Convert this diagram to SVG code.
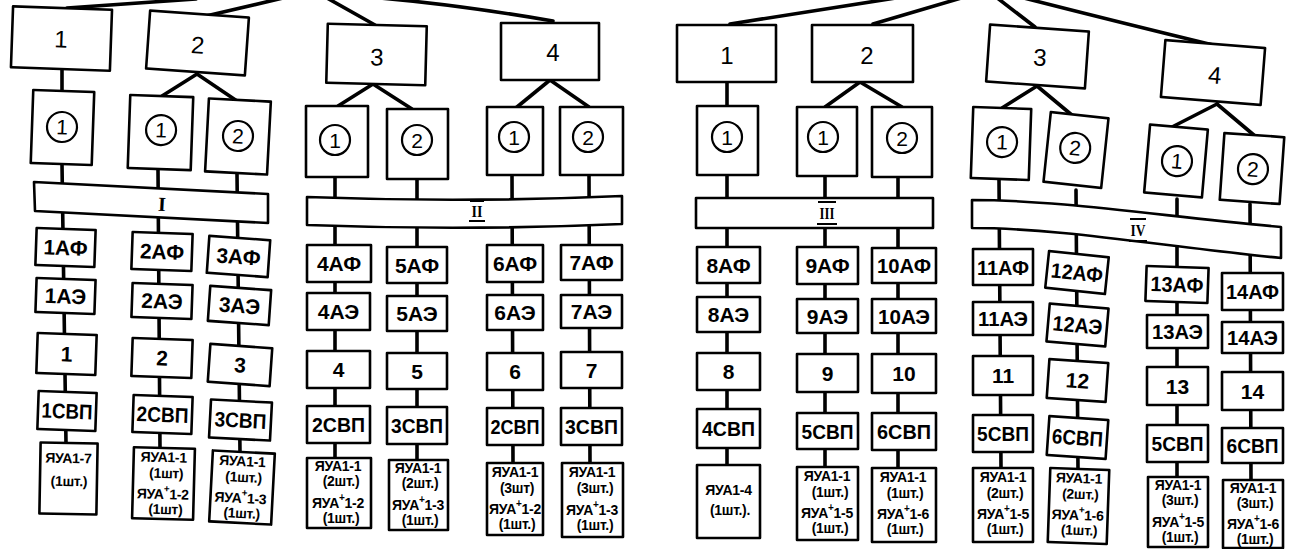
<svg xmlns="http://www.w3.org/2000/svg" width="1297" height="549" viewBox="0 0 1297 549">
<style>
.b{fill:#fff;stroke:#000;stroke-width:2.6;stroke-linejoin:round}
.ci{fill:#fff;stroke:#000;stroke-width:2.2}
.c{fill:none;stroke:#000;stroke-width:3.6;stroke-linecap:round}
.ov{stroke:#000;stroke-width:2}
text,tspan{font-family:"Liberation Sans","DejaVu Sans",sans-serif;text-anchor:middle;dominant-baseline:central;fill:#000}
.tn{font-size:24px}
.tc{font-size:21px}
.tl{font-size:21px;font-weight:bold}
.ts{font-size:14px;font-weight:bold;letter-spacing:-0.3px}
.sup{font-size:10px;baseline-shift:6px}
.tr{font-family:"Liberation Serif",serif;font-size:17px;font-weight:bold}
</style>
<rect width="1297" height="549" fill="#fff"/>
<g id="connectors">
<line class="c" x1="67" y1="8" x2="196" y2="-1"/>
<line class="c" x1="206" y1="16" x2="283" y2="-2"/>
<line class="c" x1="375" y1="25" x2="327" y2="-2"/>
<path class="c" d="M553,21 Q460,5 380,-2"/>
<line class="c" x1="730" y1="24" x2="902" y2="-3"/>
<line class="c" x1="873" y1="24" x2="968" y2="-4"/>
<line class="c" x1="1035" y1="27" x2="996" y2="-3"/>
<path class="c" d="M1213,45 Q1110,20 1020,-3"/>
<line class="c" x1="62" y1="69" x2="62" y2="91"/>
<line class="c" x1="197" y1="74" x2="162" y2="96"/>
<line class="c" x1="197" y1="74" x2="237" y2="101"/>
<line class="c" x1="373" y1="84" x2="338" y2="106"/>
<line class="c" x1="373" y1="84" x2="412" y2="109"/>
<line class="c" x1="550" y1="80" x2="517" y2="107"/>
<line class="c" x1="550" y1="80" x2="589" y2="107"/>
<line class="c" x1="727" y1="82" x2="727" y2="106"/>
<line class="c" x1="860" y1="82" x2="825" y2="107"/>
<line class="c" x1="860" y1="82" x2="902" y2="107"/>
<line class="c" x1="1037" y1="86" x2="1002" y2="108"/>
<line class="c" x1="1037" y1="86" x2="1073" y2="116"/>
<line class="c" x1="1217" y1="104" x2="1172" y2="127"/>
<line class="c" x1="1217" y1="104" x2="1255" y2="136"/>
<line class="c" x1="62" y1="164" x2="66" y2="443"/>
<line class="c" x1="158" y1="170" x2="160" y2="448"/>
<line class="c" x1="237" y1="174" x2="240" y2="452"/>
<line class="c" x1="335" y1="178" x2="335" y2="458"/>
<line class="c" x1="417" y1="179" x2="417" y2="460"/>
<line class="c" x1="512" y1="175" x2="513" y2="463"/>
<line class="c" x1="589" y1="175" x2="590" y2="463"/>
<line class="c" x1="727" y1="175" x2="727" y2="465"/>
<line class="c" x1="825" y1="176" x2="825" y2="467"/>
<line class="c" x1="898" y1="177" x2="898" y2="468"/>
<line class="c" x1="999" y1="180" x2="1001" y2="468"/>
<line class="c" x1="1076" y1="190" x2="1078" y2="469"/>
<line class="c" x1="1177" y1="199" x2="1177" y2="477"/>
<line class="c" x1="1250" y1="204" x2="1251" y2="480"/>
</g>
<g id="nodes">
<g id="L-1" transform="rotate(2 61 38)"><rect class="b" x="12" y="8" width="99" height="61"/><text class="tn" x="61" y="39">1</text></g>
<g id="L-2" transform="rotate(4 197 43)"><rect class="b" x="148" y="14" width="99" height="58"/><text class="tn" x="198" y="45">2</text></g>
<g id="L-3" transform="rotate(1.5 376 55)"><rect class="b" x="327" y="25" width="99" height="59"/><text class="tn" x="377" y="57">3</text></g>
<g id="L-4"><rect class="b" x="501" y="23" width="98" height="57"/><text class="tn" x="553" y="52">4</text></g>
<g id="L-1-1" transform="rotate(2 62 127)"><rect class="b" x="32" y="91" width="61" height="73"/><circle class="ci" cx="62" cy="127" r="15"/><text class="tc" x="62" y="127">1</text></g>
<g id="L-2-1" transform="rotate(2 160 132)"><rect class="b" x="129" y="96" width="63" height="73"/><circle class="ci" cx="161" cy="130" r="15"/><text class="tc" x="161" y="130">1</text></g>
<g id="L-2-2" transform="rotate(3 238 136)"><rect class="b" x="207" y="100" width="62" height="73"/><circle class="ci" cx="238" cy="136" r="15"/><text class="tc" x="238" y="136">2</text></g>
<g id="L-3-1"><rect class="b" x="306" y="106" width="62" height="71"/><circle class="ci" cx="335" cy="140" r="15"/><text class="tc" x="335" y="140">1</text></g>
<g id="L-3-2"><rect class="b" x="387" y="109" width="61" height="70"/><circle class="ci" cx="417" cy="140" r="15"/><text class="tc" x="417" y="140">2</text></g>
<g id="L-4-1"><rect class="b" x="487" y="107" width="56" height="68"/><circle class="ci" cx="514" cy="137" r="15"/><text class="tc" x="514" y="137">1</text></g>
<g id="L-4-2"><rect class="b" x="560" y="107" width="63" height="68"/><circle class="ci" cx="588" cy="137" r="15"/><text class="tc" x="588" y="137">2</text></g>
<g id="bar-I"><polygon class="b" points="34,182 268,194 268,223 35,211"/><text class="tr" x="162" y="204" transform="rotate(3 162 204)" style="font-size:20px">I</text></g>
<g id="bar-II"><path class="b" d="M307,197 Q465,203 622,196 L622,224 Q465,231 307,225 Z"/><text class="tr" x="477" y="211" textLength="11" lengthAdjust="spacingAndGlyphs">II</text><line class="ov" x1="470" y1="201" x2="484" y2="201"/><line class="ov" x1="469" y1="221" x2="485" y2="221"/></g>
<g id="bar-III"><rect class="b" x="696" y="198" width="237" height="30"/><text class="tr" x="827" y="213" textLength="15" lengthAdjust="spacingAndGlyphs">III</text><line class="ov" x1="818" y1="202" x2="836" y2="202"/><line class="ov" x1="817" y1="224" x2="837" y2="224"/></g>
<g id="bar-IV"><path class="b" d="M972,200 C1060,200 1160,216 1281,227 L1281,258 C1160,246 1060,228 972,228 Z"/><text class="tr" x="1138" y="230" textLength="15" lengthAdjust="spacingAndGlyphs">IV</text><line class="ov" x1="1130" y1="219" x2="1146" y2="219"/><line class="ov" x1="1129" y1="241" x2="1147" y2="241"/></g>
<g id="c1-af" transform="rotate(2 65.5 247.5)"><rect class="b" x="36" y="229" width="59" height="37"/><text class="tl" x="65.5" y="247.5">1АФ</text></g>
<g id="c1-ae" transform="rotate(2 65.5 296)"><rect class="b" x="36" y="279" width="59" height="34"/><text class="tl" x="65.5" y="296">1АЭ</text></g>
<g id="c1-n" transform="rotate(2 66.5 354)"><rect class="b" x="37" y="334" width="59" height="40"/><text class="tl" x="66.5" y="354">1</text></g>
<g id="c1-svp" transform="rotate(2 67 411)"><rect class="b" x="38" y="392" width="58" height="38"/><text class="tl" x="67" y="411" textLength="51" lengthAdjust="spacingAndGlyphs">1СВП</text></g>
<g id="c1-ya" transform="rotate(1 68.5 478.5)"><rect class="b" x="40" y="443" width="57" height="71"/><text class="ts"><tspan x="68" y="458">ЯУА1-7</tspan><tspan x="69" y="481">(1шт.)</tspan></text></g>
<g id="c2-af" transform="rotate(2 162 251.5)"><rect class="b" x="132" y="233" width="60" height="37"/><text class="tl" x="162" y="251.5">2АФ</text></g>
<g id="c2-ae" transform="rotate(2 162 301)"><rect class="b" x="132" y="284" width="60" height="34"/><text class="tl" x="162" y="301">2АЭ</text></g>
<g id="c2-n" transform="rotate(2 162 358)"><rect class="b" x="132" y="339" width="60" height="38"/><text class="tl" x="162" y="358">2</text></g>
<g id="c2-svp" transform="rotate(2 162.5 414.5)"><rect class="b" x="133" y="396" width="59" height="37"/><text class="tl" x="162.5" y="414.5" textLength="52" lengthAdjust="spacingAndGlyphs">2СВП</text></g>
<g id="c2-ya" transform="rotate(1.5 163.5 483.5)"><rect class="b" x="133" y="448" width="61" height="71"/><text class="ts"><tspan x="163" y="457">ЯУА1-1</tspan><tspan x="166" y="473">(1шт)</tspan><tspan x="163" y="494">ЯУА<tspan class="sup">+</tspan>1-2</tspan><tspan x="166" y="509">(1шт)</tspan></text></g>
<g id="c3-af" transform="rotate(4 238.5 256.5)"><rect class="b" x="208" y="238" width="61" height="37"/><text class="tl" x="238.5" y="256.5">3АФ</text></g>
<g id="c3-ae" transform="rotate(4 239.5 305.5)"><rect class="b" x="209" y="288" width="61" height="35"/><text class="tl" x="239.5" y="305.5">3АЭ</text></g>
<g id="c3-n" transform="rotate(4 240 365)"><rect class="b" x="209" y="346" width="62" height="38"/><text class="tl" x="240" y="365">3</text></g>
<g id="c3-svp" transform="rotate(3 240.5 420)"><rect class="b" x="210" y="401" width="61" height="38"/><text class="tl" x="240.5" y="420" textLength="52" lengthAdjust="spacingAndGlyphs">3СВП</text></g>
<g id="c3-ya" transform="rotate(3 242 487.5)"><rect class="b" x="211" y="452" width="62" height="71"/><text class="ts"><tspan x="241" y="461">ЯУА1-1</tspan><tspan x="243" y="477">(1шт.)</tspan><tspan x="241" y="498">ЯУА<tspan class="sup">+</tspan>1-3</tspan><tspan x="243" y="513">(1шт.)</tspan></text></g>
<g id="c4-af"><rect class="b" x="307" y="245" width="64" height="37"/><text class="tl" x="339" y="263.5">4АФ</text></g>
<g id="c4-ae"><rect class="b" x="307" y="293" width="63" height="37"/><text class="tl" x="338.5" y="311.5">4АЭ</text></g>
<g id="c4-n"><rect class="b" x="307" y="351" width="63" height="37"/><text class="tl" x="338.5" y="369.5">4</text></g>
<g id="c4-svp"><rect class="b" x="307" y="406" width="63" height="37"/><text class="tl" x="338.5" y="424.5" textLength="53" lengthAdjust="spacingAndGlyphs">2СВП</text></g>
<g id="c4-ya"><rect class="b" x="307" y="458" width="64" height="70"/><text class="ts"><tspan x="338" y="466">ЯУА1-1</tspan><tspan x="341" y="481">(2шт.)</tspan><tspan x="338" y="503">ЯУА<tspan class="sup">+</tspan>1-2</tspan><tspan x="341" y="518">(1шт.)</tspan></text></g>
<g id="c5-af"><rect class="b" x="387" y="247" width="60" height="36"/><text class="tl" x="417" y="265">5АФ</text></g>
<g id="c5-ae"><rect class="b" x="387" y="296" width="60" height="35"/><text class="tl" x="417" y="313.5">5АЭ</text></g>
<g id="c5-n"><rect class="b" x="387" y="353" width="60" height="36"/><text class="tl" x="417" y="371">5</text></g>
<g id="c5-svp"><rect class="b" x="387" y="407" width="60" height="37"/><text class="tl" x="417" y="425.5" textLength="52" lengthAdjust="spacingAndGlyphs">3СВП</text></g>
<g id="c5-ya"><rect class="b" x="389" y="460" width="59" height="70"/><text class="ts"><tspan x="418" y="468">ЯУА1-1</tspan><tspan x="420" y="483">(2шт.)</tspan><tspan x="418" y="505">ЯУА<tspan class="sup">+</tspan>1-3</tspan><tspan x="420" y="520">(1шт.)</tspan></text></g>
<g id="c6-af"><rect class="b" x="487" y="245" width="56" height="37"/><text class="tl" x="515" y="263.5">6АФ</text></g>
<g id="c6-ae"><rect class="b" x="487" y="295" width="56" height="35"/><text class="tl" x="515" y="312.5">6АЭ</text></g>
<g id="c6-n"><rect class="b" x="487" y="353" width="56" height="37"/><text class="tl" x="515" y="371.5">6</text></g>
<g id="c6-svp"><rect class="b" x="487" y="408" width="56" height="37"/><text class="tl" x="515" y="426.5" textLength="49" lengthAdjust="spacingAndGlyphs">2СВП</text></g>
<g id="c6-ya"><rect class="b" x="487" y="463" width="56" height="72"/><text class="ts"><tspan x="515" y="472">ЯУА1-1</tspan><tspan x="517" y="488">(3шт)</tspan><tspan x="515" y="509">ЯУА<tspan class="sup">+</tspan>1-2</tspan><tspan x="517" y="524">(1шт.)</tspan></text></g>
<g id="c7-af"><rect class="b" x="561" y="245" width="61" height="35"/><text class="tl" x="591.5" y="262.5">7АФ</text></g>
<g id="c7-ae"><rect class="b" x="561" y="295" width="61" height="33"/><text class="tl" x="591.5" y="311.5">7АЭ</text></g>
<g id="c7-n"><rect class="b" x="561" y="352" width="61" height="36"/><text class="tl" x="591.5" y="370">7</text></g>
<g id="c7-svp"><rect class="b" x="561" y="408" width="61" height="37"/><text class="tl" x="591.5" y="426.5" textLength="53" lengthAdjust="spacingAndGlyphs">3СВП</text></g>
<g id="c7-ya"><rect class="b" x="562" y="463" width="61" height="74"/><text class="ts"><tspan x="592" y="472">ЯУА1-1</tspan><tspan x="595" y="488">(3шт.)</tspan><tspan x="592" y="510">ЯУА<tspan class="sup">+</tspan>1-3</tspan><tspan x="595" y="525">(1шт.)</tspan></text></g>
<g id="R-1"><rect class="b" x="677" y="25" width="99" height="57"/><text class="tn" x="727" y="55">1</text></g>
<g id="R-2"><rect class="b" x="812" y="25" width="101" height="57"/><text class="tn" x="867" y="55">2</text></g>
<g id="R-3" transform="rotate(4 1037.5 56.5)"><rect class="b" x="988" y="28" width="99" height="57"/><text class="tn" x="1040" y="57">3</text></g>
<g id="R-4" transform="rotate(4.5 1213 72.5)"><rect class="b" x="1163" y="44" width="100" height="57"/><text class="tn" x="1215" y="75">4</text></g>
<g id="R-1-1"><rect class="b" x="697" y="106" width="61" height="69"/><circle class="ci" cx="727" cy="137" r="15"/><text class="tc" x="727" y="137">1</text></g>
<g id="R-2-1"><rect class="b" x="797" y="107" width="60" height="69"/><circle class="ci" cx="823" cy="137" r="15"/><text class="tc" x="823" y="137">1</text></g>
<g id="R-2-2"><rect class="b" x="872" y="107" width="60" height="70"/><circle class="ci" cx="902" cy="138" r="15"/><text class="tc" x="902" y="138">2</text></g>
<g id="R-3-1" transform="rotate(2 1001 143.5)"><rect class="b" x="972" y="108" width="58" height="71"/><circle class="ci" cx="1002" cy="142" r="15"/><text class="tc" x="1002" y="142">1</text></g>
<g id="R-3-2" transform="rotate(6 1076 150)"><rect class="b" x="1047" y="115" width="58" height="70"/><circle class="ci" cx="1075" cy="148" r="15"/><text class="tc" x="1075" y="148">2</text></g>
<g id="R-4-1" transform="rotate(5 1176 161)"><rect class="b" x="1147" y="127" width="58" height="68"/><circle class="ci" cx="1177" cy="161" r="15"/><text class="tc" x="1177" y="161">1</text></g>
<g id="R-4-2" transform="rotate(4 1252 168.5)"><rect class="b" x="1222" y="135" width="60" height="67"/><circle class="ci" cx="1253" cy="169" r="15"/><text class="tc" x="1253" y="169">2</text></g>
<g id="c8-af"><rect class="b" x="697" y="247" width="63" height="36"/><text class="tl" x="728.5" y="265">8АФ</text></g>
<g id="c8-ae"><rect class="b" x="697" y="297" width="63" height="35"/><text class="tl" x="728.5" y="314.5">8АЭ</text></g>
<g id="c8-n"><rect class="b" x="697" y="353" width="63" height="37"/><text class="tl" x="728.5" y="371.5">8</text></g>
<g id="c8-svp"><rect class="b" x="697" y="409" width="63" height="39"/><text class="tl" x="728.5" y="428.5" textLength="53" lengthAdjust="spacingAndGlyphs">4СВП</text></g>
<g id="c8-ya"><rect class="b" x="697" y="465" width="63" height="73"/><text class="ts"><tspan x="728.5" y="490">ЯУА1-4</tspan><tspan x="730" y="510">(1шт.).</tspan></text></g>
<g id="c9-af"><rect class="b" x="797" y="247" width="61" height="37"/><text class="tl" x="827.5" y="265.5">9АФ</text></g>
<g id="c9-ae"><rect class="b" x="797" y="299" width="61" height="34"/><text class="tl" x="827.5" y="316">9АЭ</text></g>
<g id="c9-n"><rect class="b" x="797" y="354" width="61" height="38"/><text class="tl" x="827.5" y="373">9</text></g>
<g id="c9-svp"><rect class="b" x="797" y="413" width="61" height="36"/><text class="tl" x="827.5" y="431" textLength="52" lengthAdjust="spacingAndGlyphs">5СВП</text></g>
<g id="c9-ya"><rect class="b" x="797" y="467" width="61" height="73"/><text class="ts"><tspan x="827" y="476">ЯУА1-1</tspan><tspan x="830" y="492">(1шт.)</tspan><tspan x="827" y="513">ЯУА<tspan class="sup">+</tspan>1-5</tspan><tspan x="830" y="528">(1шт.)</tspan></text></g>
<g id="c10-af"><rect class="b" x="872" y="248" width="64" height="35"/><text class="tl" x="904" y="265.5" textLength="54" lengthAdjust="spacingAndGlyphs">10АФ</text></g>
<g id="c10-ae"><rect class="b" x="872" y="299" width="64" height="34"/><text class="tl" x="904" y="316" textLength="52" lengthAdjust="spacingAndGlyphs">10АЭ</text></g>
<g id="c10-n"><rect class="b" x="872" y="354" width="64" height="39"/><text class="tl" x="904" y="373.5">10</text></g>
<g id="c10-svp"><rect class="b" x="872" y="413" width="64" height="37"/><text class="tl" x="904" y="431.5" textLength="54" lengthAdjust="spacingAndGlyphs">6СВП</text></g>
<g id="c10-ya"><rect class="b" x="872" y="468" width="64" height="74"/><text class="ts"><tspan x="903" y="477">ЯУА1-1</tspan><tspan x="905" y="493">(1шт.)</tspan><tspan x="903" y="514">ЯУА<tspan class="sup">+</tspan>1-6</tspan><tspan x="905" y="529">(1шт.)</tspan></text></g>
<g id="c11-af"><rect class="b" x="973" y="249" width="60" height="36"/><text class="tl" x="1003" y="267" textLength="52" lengthAdjust="spacingAndGlyphs">11АФ</text></g>
<g id="c11-ae"><rect class="b" x="973" y="302" width="60" height="33"/><text class="tl" x="1003" y="318.5" textLength="50" lengthAdjust="spacingAndGlyphs">11АЭ</text></g>
<g id="c11-n"><rect class="b" x="973" y="356" width="60" height="39"/><text class="tl" x="1003" y="375.5">11</text></g>
<g id="c11-svp"><rect class="b" x="973" y="415" width="60" height="37"/><text class="tl" x="1003" y="433.5" textLength="52" lengthAdjust="spacingAndGlyphs">5СВП</text></g>
<g id="c11-ya"><rect class="b" x="973" y="468" width="60" height="74"/><text class="ts"><tspan x="1003" y="477">ЯУА1-1</tspan><tspan x="1005" y="493">(2шт.)</tspan><tspan x="1003" y="514">ЯУА<tspan class="sup">+</tspan>1-5</tspan><tspan x="1005" y="529">(1шт.)</tspan></text></g>
<g id="c12-af" transform="rotate(6 1077 272.5)"><rect class="b" x="1047" y="254" width="60" height="37"/><text class="tl" x="1077" y="272.5" textLength="52" lengthAdjust="spacingAndGlyphs">12АФ</text></g>
<g id="c12-ae" transform="rotate(5 1077.5 325)"><rect class="b" x="1048" y="306" width="59" height="38"/><text class="tl" x="1077.5" y="325" textLength="50" lengthAdjust="spacingAndGlyphs">12АЭ</text></g>
<g id="c12-n" transform="rotate(4 1077.5 380.5)"><rect class="b" x="1048" y="361" width="59" height="39"/><text class="tl" x="1077.5" y="380.5">12</text></g>
<g id="c12-svp" transform="rotate(4 1077.5 437.5)"><rect class="b" x="1048" y="418" width="59" height="39"/><text class="tl" x="1077.5" y="437.5" textLength="51" lengthAdjust="spacingAndGlyphs">6СВП</text></g>
<g id="c12-ya" transform="rotate(2 1078.5 506)"><rect class="b" x="1049" y="469" width="59" height="74"/><text class="ts"><tspan x="1078" y="478">ЯУА1-1</tspan><tspan x="1080" y="494">(2шт.)</tspan><tspan x="1078" y="515">ЯУА<tspan class="sup">+</tspan>1-6</tspan><tspan x="1080" y="530">(1шт.)</tspan></text></g>
<g id="c13-af" transform="rotate(2 1177 284.5)"><rect class="b" x="1146" y="267" width="62" height="35"/><text class="tl" x="1177" y="284.5" textLength="53" lengthAdjust="spacingAndGlyphs">13АФ</text></g>
<g id="c13-ae"><rect class="b" x="1147" y="315" width="61" height="33"/><text class="tl" x="1177.5" y="331.5" textLength="51" lengthAdjust="spacingAndGlyphs">13АЭ</text></g>
<g id="c13-n"><rect class="b" x="1147" y="367" width="61" height="38"/><text class="tl" x="1177.5" y="386">13</text></g>
<g id="c13-svp"><rect class="b" x="1147" y="425" width="61" height="37"/><text class="tl" x="1177.5" y="443.5" textLength="52" lengthAdjust="spacingAndGlyphs">5СВП</text></g>
<g id="c13-ya"><rect class="b" x="1148" y="477" width="60" height="70"/><text class="ts"><tspan x="1178" y="485">ЯУА1-1</tspan><tspan x="1180" y="500">(3шт.)</tspan><tspan x="1178" y="522">ЯУА<tspan class="sup">+</tspan>1-5</tspan><tspan x="1180" y="537">(1шт.)</tspan></text></g>
<g id="c14-af"><rect class="b" x="1222" y="273" width="61" height="37"/><text class="tl" x="1252.5" y="291.5" textLength="53" lengthAdjust="spacingAndGlyphs">14АФ</text></g>
<g id="c14-ae"><rect class="b" x="1222" y="322" width="61" height="31"/><text class="tl" x="1252.5" y="337.5" textLength="51" lengthAdjust="spacingAndGlyphs">14АЭ</text></g>
<g id="c14-n"><rect class="b" x="1222" y="372" width="61" height="38"/><text class="tl" x="1252.5" y="391">14</text></g>
<g id="c14-svp"><rect class="b" x="1222" y="428" width="61" height="35"/><text class="tl" x="1252.5" y="445.5" textLength="52" lengthAdjust="spacingAndGlyphs">6СВП</text></g>
<g id="c14-ya"><rect class="b" x="1223" y="480" width="60" height="68"/><text class="ts"><tspan x="1253" y="488">ЯУА1-1</tspan><tspan x="1255" y="503">(3шт.)</tspan><tspan x="1253" y="524">ЯУА<tspan class="sup">+</tspan>1-6</tspan><tspan x="1255" y="539">(1шт.)</tspan></text></g>
</g>
</svg>
